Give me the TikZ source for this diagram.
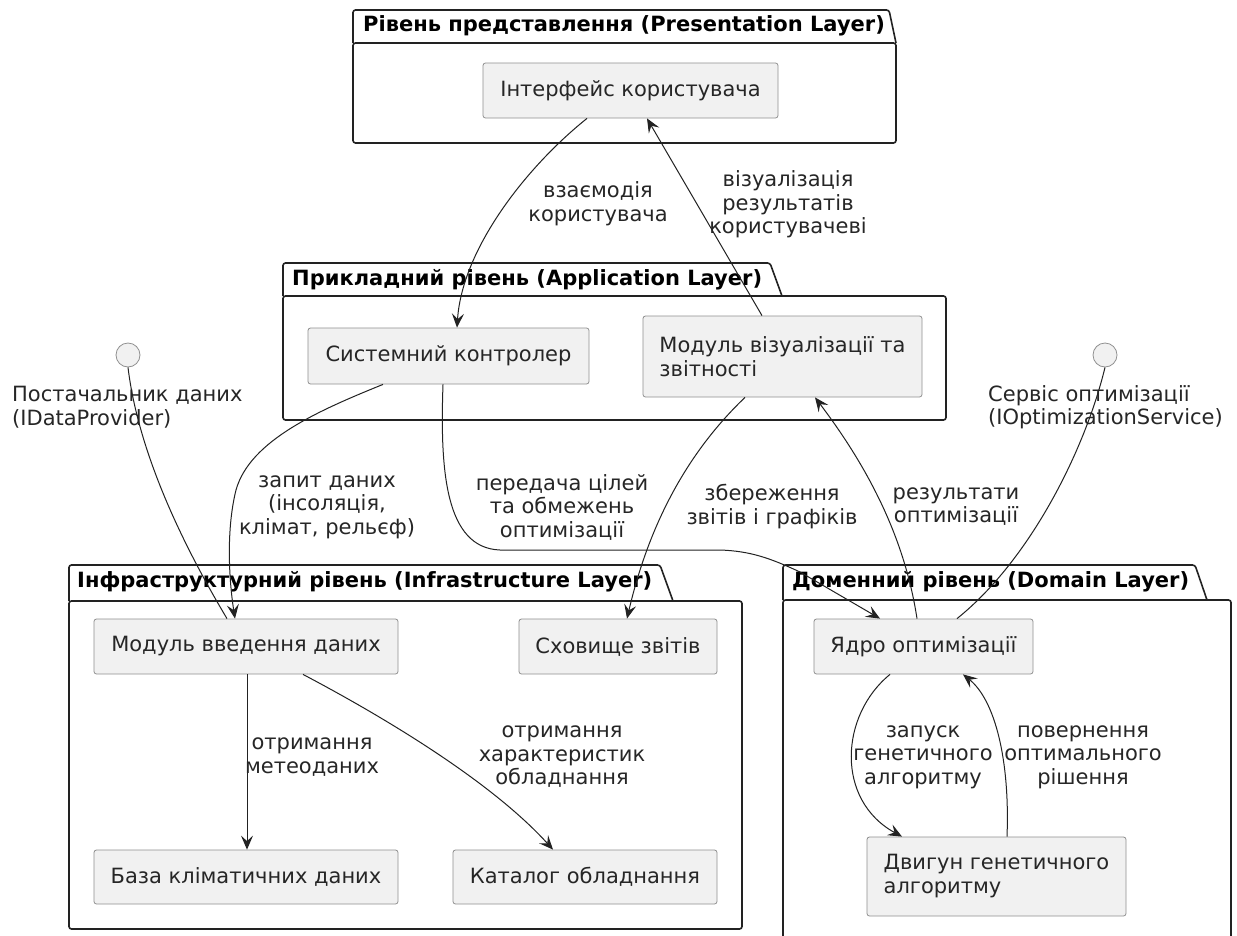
\documentclass[tikz,border=0pt]{standalone}
\usepackage{fontspec}
\setmainfont{DejaVu Sans}
\usetikzlibrary{arrows.meta,calc}
\definecolor{compfill}{HTML}{F1F1F1}
\definecolor{compline}{HTML}{909090}
\definecolor{lineclr}{HTML}{222222}
\tikzset{
  comp/.style={draw=compline, fill=compfill, line width=0.8pt, rounded corners=2.5pt,
    inner sep=0pt, font=\fontsize{21}{24}\selectfont, text=black!85},
  lbl/.style={align=center, font=\fontsize{21}{23.5}\selectfont, inner sep=0pt, text=black!85},
  ttl/.style={anchor=west, font=\bfseries\fontsize{21}{24}\selectfont, inner sep=0pt},
  pkg/.style={draw=lineclr, line width=1.6pt, fill=white, rounded corners=2.5pt},
  conn/.style={draw=lineclr, line width=1pt},
  arr/.style={conn, -{Stealth[length=14pt,width=12pt,inset=5.5pt]}},
  iface/.style={circle, draw=compline, fill=compfill, line width=0.8pt, minimum size=24pt, inner sep=0pt},
}
\begin{document}
\begin{tikzpicture}[x=1pt,y=-1pt]
\useasboundingbox (0,0) rectangle (1237,935);
\clip (0,0) rectangle (1237,935);
\fill[white] (0,0) rectangle (1237,935);

% packages
\draw[pkg] (353,43) -- (353,10) -- (889,10) -- (896,43);
\draw[pkg] (353,43) rectangle (896,143);
\node[ttl] (tpres) at (363,26) {Рівень представлення (Presentation Layer)};

\draw[pkg] (283,296) -- (283,263) -- (770,263) -- (782,296);
\draw[pkg] (283,296) rectangle (946,420);
\node[ttl] (tapp) at (292,280) {Прикладний рівень (Application Layer)};

\draw[pkg] (69,601) -- (69,565) -- (660,565) -- (673,601);
\draw[pkg] (69,601) rectangle (742,929);
\node[ttl] (tinf) at (77,582) {Інфраструктурний рівень (Infrastructure Layer)};

\draw[pkg] (783,600) -- (783,565) -- (1195,565) -- (1207,600);
\draw[pkg] (783,600) rectangle (1231,960);
\node[ttl] (tdom) at (792,582) {Доменний рівень (Domain Layer)};

% components
\node[comp, minimum width=295pt, minimum height=55pt] (ui) at (630.5,90.5) {Інтерфейс користувача};
\node[comp, minimum width=281pt, minimum height=56pt] (ctrl) at (448.5,356) {Системний контролер};
\node[comp, minimum width=279pt, minimum height=81pt, align=left] (viz) at (782.5,356.5) {Модуль візуалізації та\\звітності};
\node[comp, minimum width=304pt, minimum height=55pt] (input) at (246,646.5) {Модуль введення даних};
\node[comp, minimum width=198pt, minimum height=55pt] (store) at (618,646.5) {Сховище звітів};
\node[comp, minimum width=304pt, minimum height=54pt] (climate) at (246,877) {База кліматичних даних};
\node[comp, minimum width=264pt, minimum height=54pt] (catalog) at (585,877) {Каталог обладнання};
\node[comp, minimum width=219pt, minimum height=55pt] (core) at (923.5,646.5) {Ядро оптимізації};
\node[comp, minimum width=259pt, minimum height=79pt, align=left] (engine) at (996.5,876.5) {Двигун генетичного\\алгоритму};

% interfaces
\node[iface] (dp) at (128,355) {};
\node[iface] (os) at (1105,355) {};
\node[lbl, align=left, anchor=west] (dplbl) at (12,407) {Постачальник даних\\(IDataProvider)};
\node[lbl, align=left, anchor=west] (oslbl) at (988,407) {Сервіс оптимізації\\(IOptimizationService)};

% connectors
\draw[arr] ([xshift=-43.5pt]ui.south) .. controls (525,168) and (462,250) .. ([xshift=8.5pt]ctrl.north);
\draw[arr] ([xshift=-20.5pt]viz.north) -- ([xshift=16.5pt]ui.south);
\draw[arr] ([xshift=-65.5pt]ctrl.south) .. controls (320,410) and (250,440) .. (236,490)
   .. controls (226,530) and (229,580) .. ([xshift=-11pt]input.north);
\draw[arr] ([xshift=-5.5pt]ctrl.south) .. controls (440,470) and (445,548) .. (500,550)
   -- (720,550) .. controls (750,551) and (770,558) .. (800,572) -- ([xshift=-43.5pt]core.north);
\draw[arr] ([xshift=-37.5pt]viz.south) .. controls (690,450) and (650,520) .. ([xshift=9pt]store.north);
\draw[arr] ([xshift=-6.5pt]core.north) .. controls (905,540) and (870,470) .. ([xshift=32.5pt]viz.south);
\draw[conn] (dp.south) .. controls (138,450) and (180,540) .. ([xshift=-19pt]input.north);
\draw[conn] (os.south) .. controls (1085,450) and (1030,560) .. ([xshift=33.5pt]core.north);
\draw[arr] ([xshift=1pt]input.south) -- ([xshift=1pt]climate.north);
\draw[arr] ([xshift=57pt]input.south) .. controls (380,715) and (490,780) .. ([xshift=-32pt]catalog.north);
\draw[arr] ([xshift=-33.5pt]core.south) .. controls (840,715) and (835,800) .. ([xshift=-94.5pt]engine.north);
\draw[arr] ([xshift=10.5pt]engine.north) .. controls (1010,760) and (995,700) .. ([xshift=39.5pt]core.south);

% labels
\node[lbl] (l1) at (598,203.5) {взаємодія\\користувача};
\node[lbl] (l2) at (788,204.5) {візуалізація\\результатів\\користувачеві};
\node[lbl] (l3) at (327,507) {запит даних\\(інсоляція,\\клімат, рельєф)};
\node[lbl] (l4) at (562,507) {передача цілей\\та обмежень\\оптимізації};
\node[lbl] (l5) at (772,506.5) {збереження\\звітів і графіків};
\node[lbl] (l6) at (956,506.5) {результати\\оптимізації};
\node[lbl] (l7) at (312,757) {отримання\\метеоданих};
\node[lbl] (l8) at (562,757) {отримання\\характеристик\\обладнання};
\node[lbl] (l9) at (923,757) {запуск\\генетичного\\алгоритму};
\node[lbl] (l10) at (1083,757) {повернення\\оптимального\\рішення};
\end{tikzpicture}
\end{document}
